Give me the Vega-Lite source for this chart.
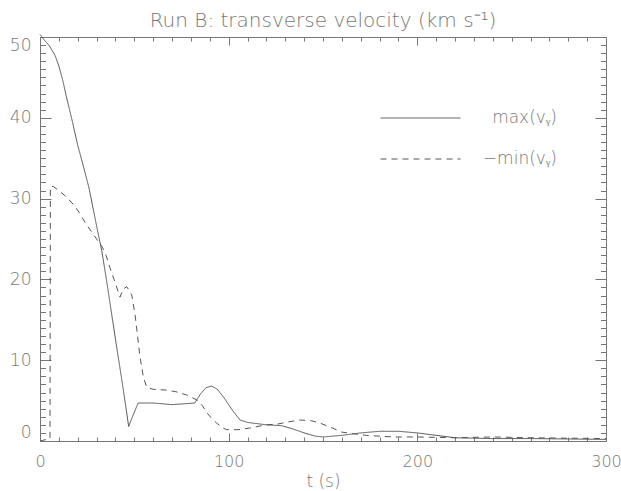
{
  "$schema": "https://vega.github.io/schema/vega-lite/v6.json",
  "width": 566,
  "height": 404,
  "autosize": "none",
  "padding": {"left": 40, "top": 37, "right": 15, "bottom": 50},
  "background": "white",
  "config": {
    "view": {"stroke": "#777", "strokeWidth": 1},
    "font": "DejaVu Sans",
    "axis": {"grid": false, "domain": false, "tickColor": "#777", "labelColor": "#777", "titleColor": "#777", "labelFont": "DejaVu Sans", "titleFont": "DejaVu Sans", "labelFontWeight": 200, "titleFontWeight": 200, "labelFontSize": 17, "titleFontSize": 17},
    "title": {"color": "#777", "fontSize": 20, "fontWeight": 200, "font": "DejaVu Sans"},
    "legend": {"labelColor": "#777", "labelFont": "DejaVu Sans", "labelFontWeight": 200}
  },
  "title": {"text": "Run B: transverse velocity (km s⁻¹)", "offset": 2, "anchor": "middle"},
  "data": {"values": [
    {"t": 0, "v": 50.3, "s": "max"},
    {"t": 2, "v": 49.7, "s": "max"},
    {"t": 5, "v": 48.9, "s": "max"},
    {"t": 8, "v": 47.7, "s": "max"},
    {"t": 10, "v": 46.4, "s": "max"},
    {"t": 12, "v": 44.7, "s": "max"},
    {"t": 14, "v": 42.6, "s": "max"},
    {"t": 17, "v": 39.7, "s": "max"},
    {"t": 20, "v": 36.6, "s": "max"},
    {"t": 23, "v": 34.0, "s": "max"},
    {"t": 26, "v": 31.3, "s": "max"},
    {"t": 30, "v": 26.6, "s": "max"},
    {"t": 32.7, "v": 23.6, "s": "max"},
    {"t": 35, "v": 20.3, "s": "max"},
    {"t": 40, "v": 12.6, "s": "max"},
    {"t": 44, "v": 6.6, "s": "max"},
    {"t": 47, "v": 1.8, "s": "max"},
    {"t": 49, "v": 3.0, "s": "max"},
    {"t": 52, "v": 4.7, "s": "max"},
    {"t": 60, "v": 4.7, "s": "max"},
    {"t": 70, "v": 4.5, "s": "max"},
    {"t": 82, "v": 4.7, "s": "max"},
    {"t": 85, "v": 5.8, "s": "max"},
    {"t": 88, "v": 6.6, "s": "max"},
    {"t": 91, "v": 6.8, "s": "max"},
    {"t": 94, "v": 6.4, "s": "max"},
    {"t": 98, "v": 5.2, "s": "max"},
    {"t": 102, "v": 3.8, "s": "max"},
    {"t": 106, "v": 2.6, "s": "max"},
    {"t": 110, "v": 2.3, "s": "max"},
    {"t": 120, "v": 2.0, "s": "max"},
    {"t": 128, "v": 1.9, "s": "max"},
    {"t": 134, "v": 1.5, "s": "max"},
    {"t": 140, "v": 1.0, "s": "max"},
    {"t": 146, "v": 0.6, "s": "max"},
    {"t": 150, "v": 0.5, "s": "max"},
    {"t": 160, "v": 0.7, "s": "max"},
    {"t": 170, "v": 1.0, "s": "max"},
    {"t": 180, "v": 1.2, "s": "max"},
    {"t": 190, "v": 1.2, "s": "max"},
    {"t": 200, "v": 1.0, "s": "max"},
    {"t": 210, "v": 0.7, "s": "max"},
    {"t": 220, "v": 0.4, "s": "max"},
    {"t": 240, "v": 0.3, "s": "max"},
    {"t": 260, "v": 0.3, "s": "max"},
    {"t": 280, "v": 0.25, "s": "max"},
    {"t": 300, "v": 0.2, "s": "max"},
    {"t": 0, "v": 0, "s": "min"},
    {"t": 5.3, "v": 0.3, "s": "min"},
    {"t": 5.5, "v": 31.5, "s": "min"},
    {"t": 7, "v": 31.5, "s": "min"},
    {"t": 10, "v": 31.0, "s": "min"},
    {"t": 14, "v": 30.2, "s": "min"},
    {"t": 18, "v": 29.2, "s": "min"},
    {"t": 21, "v": 28.2, "s": "min"},
    {"t": 24, "v": 27.0, "s": "min"},
    {"t": 27, "v": 26.0, "s": "min"},
    {"t": 30, "v": 25.0, "s": "min"},
    {"t": 33, "v": 24.0, "s": "min"},
    {"t": 35, "v": 23.0, "s": "min"},
    {"t": 37, "v": 21.5, "s": "min"},
    {"t": 40, "v": 19.5, "s": "min"},
    {"t": 42.4, "v": 17.8, "s": "min"},
    {"t": 44, "v": 18.8, "s": "min"},
    {"t": 46, "v": 19.1, "s": "min"},
    {"t": 48.6, "v": 18.1, "s": "min"},
    {"t": 50.4, "v": 15.6, "s": "min"},
    {"t": 53, "v": 10.4, "s": "min"},
    {"t": 54.8, "v": 7.9, "s": "min"},
    {"t": 56.6, "v": 6.6, "s": "min"},
    {"t": 60, "v": 6.4, "s": "min"},
    {"t": 67, "v": 6.3, "s": "min"},
    {"t": 72, "v": 6.1, "s": "min"},
    {"t": 77.7, "v": 5.7, "s": "min"},
    {"t": 83, "v": 5.1, "s": "min"},
    {"t": 86, "v": 4.4, "s": "min"},
    {"t": 88.4, "v": 3.5, "s": "min"},
    {"t": 91, "v": 2.8, "s": "min"},
    {"t": 93.7, "v": 2.2, "s": "min"},
    {"t": 97, "v": 1.6, "s": "min"},
    {"t": 99, "v": 1.4, "s": "min"},
    {"t": 105, "v": 1.4, "s": "min"},
    {"t": 111, "v": 1.6, "s": "min"},
    {"t": 120, "v": 2.0, "s": "min"},
    {"t": 126, "v": 2.1, "s": "min"},
    {"t": 132.5, "v": 2.4, "s": "min"},
    {"t": 138, "v": 2.6, "s": "min"},
    {"t": 144, "v": 2.5, "s": "min"},
    {"t": 148.6, "v": 2.2, "s": "min"},
    {"t": 155, "v": 1.6, "s": "min"},
    {"t": 160, "v": 1.1, "s": "min"},
    {"t": 166, "v": 0.9, "s": "min"},
    {"t": 173, "v": 0.7, "s": "min"},
    {"t": 187, "v": 0.5, "s": "min"},
    {"t": 200, "v": 0.5, "s": "min"},
    {"t": 220, "v": 0.4, "s": "min"},
    {"t": 240, "v": 0.5, "s": "min"},
    {"t": 260, "v": 0.4, "s": "min"},
    {"t": 280, "v": 0.35, "s": "min"},
    {"t": 300, "v": 0.3, "s": "min"}
  ]},
  "resolve": {"axis": {"x": "independent", "y": "independent"}},
  "layer": [
    {
      "mark": {"type": "line", "color": "#555", "strokeWidth": 1},
      "encoding": {
        "x": {"field": "t", "type": "quantitative", "scale": {"domain": [0, 300], "nice": false, "zero": false},
          "axis": {"orient": "bottom", "values": [0, 100, 200, 300], "tickSize": -8, "labelPadding": 20, "labelFontSize": 16, "labelFlush": false, "title": "t (s)", "titlePadding": 4}},
        "y": {"field": "v", "type": "quantitative", "scale": {"domain": [0, 50], "nice": false},
          "axis": {"orient": "left", "values": [0, 10, 20, 30, 40, 50], "tickSize": -11, "labelPadding": 20, "labelFlush": true, "title": null}},
        "strokeDash": {"field": "s", "type": "nominal",
          "scale": {"domain": ["max", "min"], "range": [[1, 0], [6, 5]]},
          "legend": {"orient": "none", "legendX": 340, "legendY": 73, "title": null,
            "symbolType": "stroke", "symbolSize": 6400, "symbolStrokeWidth": 1, "symbolStrokeColor": "#555",
            "labelFontSize": 17, "labelAlign": "right", "labelOffset": 96, "clipHeight": 16, "rowPadding": 24,
            "labelExpr": "datum.value == 'max' ? 'max(vᵧ)' : '−min(vᵧ)'"}},
        "detail": {"field": "s"}
      }
    },
    {
      "mark": {"type": "line", "opacity": 0},
      "encoding": {
        "x": {"field": "t", "type": "quantitative", "axis": {"orient": "bottom", "values": [0,10,20,30,40,50,60,70,80,90,100,110,120,130,140,150,160,170,180,190,200,210,220,230,240,250,260,270,280,290,300], "tickSize": -4, "labels": false, "title": null}},
        "y": {"field": "v", "type": "quantitative", "axis": {"orient": "left", "values": [0,1,2,3,4,5,6,7,8,9,10,11,12,13,14,15,16,17,18,19,20,21,22,23,24,25,26,27,28,29,30,31,32,33,34,35,36,37,38,39,40,41,42,43,44,45,46,47,48,49,50], "tickSize": -5.5, "labels": false, "title": null}},
        "detail": {"field": "s"}
      }
    },
    {
      "mark": {"type": "line", "opacity": 0},
      "encoding": {
        "x": {"field": "t", "type": "quantitative", "axis": {"orient": "top", "values": [0, 100, 200, 300], "tickSize": -8, "labels": false, "title": null}},
        "y": {"field": "v", "type": "quantitative", "axis": {"orient": "right", "values": [0, 10, 20, 30, 40, 50], "tickSize": -11, "labels": false, "title": null}},
        "detail": {"field": "s"}
      }
    },
    {
      "mark": {"type": "line", "opacity": 0},
      "encoding": {
        "x": {"field": "t", "type": "quantitative", "axis": {"orient": "top", "values": [0,10,20,30,40,50,60,70,80,90,100,110,120,130,140,150,160,170,180,190,200,210,220,230,240,250,260,270,280,290,300], "tickSize": -4, "labels": false, "title": null}},
        "y": {"field": "v", "type": "quantitative", "axis": {"orient": "right", "values": [0,1,2,3,4,5,6,7,8,9,10,11,12,13,14,15,16,17,18,19,20,21,22,23,24,25,26,27,28,29,30,31,32,33,34,35,36,37,38,39,40,41,42,43,44,45,46,47,48,49,50], "tickSize": -5.5, "labels": false, "title": null}},
        "detail": {"field": "s"}
      }
    }
  ]
}
